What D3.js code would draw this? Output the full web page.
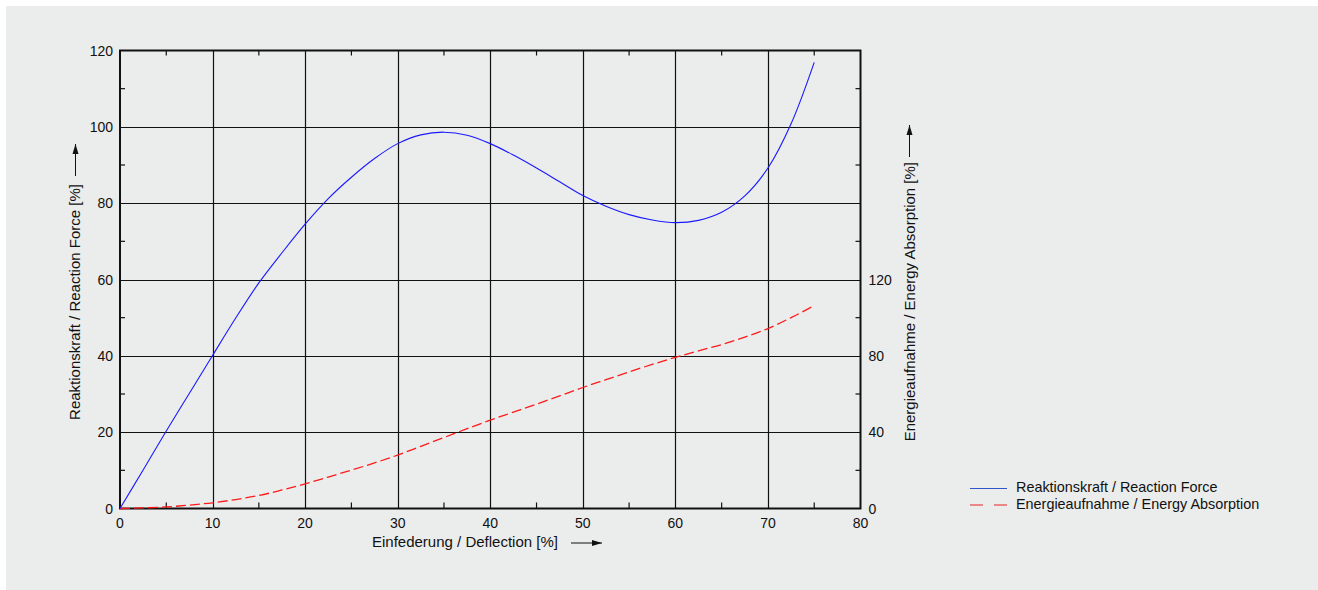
<!DOCTYPE html>
<html><head><meta charset="utf-8">
<script src="https://cdn.jsdelivr.net/npm/d3@7"></script>
<style>body{margin:0;background:#fff}svg{display:block}text{font-family:"Liberation Sans",Arial,sans-serif;fill:#111}</style>
</head><body><svg id="c" width="1318" height="590"></svg>
<script>
const deflection = [0,2.5,5,7.5,10,12.5,15,17.5,20,22.5,25,27.5,30,32.5,35,37.5,40,42.5,45,47.5,50,52.5,55,57.5,60,62.5,65,67.5,70,72.5,75];
const reactionForce = [0,10.1,20.3,30.2,40.1,49.9,59.1,67.0,74.5,81.2,86.8,91.7,95.6,97.9,98.6,97.8,95.6,92.6,89.2,85.6,82.0,79.2,77.0,75.6,74.9,75.5,77.6,81.9,89.2,100.8,116.9];
const energyAbsorption = [0,0.3,0.8,1.8,3,4.7,6.8,9.7,12.9,16.5,20.1,23.9,28,32.6,37.2,41.8,46.3,50.5,54.7,59,63.4,67.5,71.6,75.5,79.2,82.6,85.9,89.8,94.3,100,106.3];
const xTicks = [0,10,20,30,40,50,60,70,80];
const yLeftTicks = [0,20,40,60,80,100,120];
const yRightTicks = [0,40,80,120];
const labels = {
  x: "Einfederung / Deflection [%]",
  yLeft: "Reaktionskraft / Reaction Force [%]",
  yRight: "Energieaufnahme / Energy Absorption [%]",
  s1: "Reaktionskraft / Reaction Force",
  s2: "Energieaufnahme / Energy Absorption"
};

const svg = d3.select("#c");
svg.append("defs").append("marker").attr("id","ah").attr("viewBox","0 0 10 10")
  .attr("refX",10).attr("refY",5).attr("markerWidth",10).attr("markerHeight",10)
  .attr("markerUnits","userSpaceOnUse").attr("orient","auto")
  .append("path").attr("d","M0,2 L10,5 L0,8 Z").attr("fill","#111");

svg.append("rect").attr("x",6).attr("y",6).attr("width",1312).attr("height",584).attr("fill","#ebecec");

const L=120,R=860.5,T=50.5,B=508.5;
const x = d3.scaleLinear().domain([0,80]).range([L,R]);
const yL = d3.scaleLinear().domain([0,120]).range([B,T]);
const yR = d3.scaleLinear().domain([0,240]).range([B,T]);

const g = svg.append("g");
g.selectAll(".vg").data(xTicks.slice(1,-1)).join("line")
  .attr("x1",d=>Math.round(x(d))+0.5).attr("x2",d=>Math.round(x(d))+0.5).attr("y1",T).attr("y2",B)
  .attr("stroke","#111").attr("stroke-width",1.2);
g.selectAll(".hg").data(yLeftTicks.slice(1,-1)).join("line")
  .attr("y1",d=>Math.round(yL(d))+0.5).attr("y2",d=>Math.round(yL(d))+0.5).attr("x1",L).attr("x2",R)
  .attr("stroke","#111").attr("stroke-width",1.2);
const xMinor = d3.range(5,80,10);
const yMinor = d3.range(10,120,20);
g.selectAll(".bt").data(xMinor).join("line").attr("x1",d=>x(d)).attr("x2",d=>x(d)).attr("y1",B).attr("y2",B-6).attr("stroke","#111").attr("stroke-width",1.2);
g.selectAll(".tt").data(xMinor).join("line").attr("x1",d=>x(d)).attr("x2",d=>x(d)).attr("y1",T).attr("y2",T+5).attr("stroke","#111").attr("stroke-width",1.2);
g.selectAll(".lt").data(yMinor).join("line").attr("y1",d=>yL(d)).attr("y2",d=>yL(d)).attr("x1",L).attr("x2",L+5).attr("stroke","#111").attr("stroke-width",1.2);
g.selectAll(".rt").data(yMinor).join("line").attr("y1",d=>yL(d)).attr("y2",d=>yL(d)).attr("x1",R).attr("x2",R-5).attr("stroke","#111").attr("stroke-width",1.2);
g.append("rect").attr("x",L).attr("y",T).attr("width",R-L).attr("height",B-T).attr("fill","none").attr("stroke","#111").attr("stroke-width",2);

svg.selectAll(".xl").data(xTicks).join("text").attr("x",d=>x(d)).attr("y",B+19).attr("text-anchor","middle").attr("font-size",14).text(d=>d);
svg.selectAll(".yll").data(yLeftTicks).join("text").attr("x",L-7).attr("y",d=>yL(d)+5).attr("text-anchor","end").attr("font-size",14).text(d=>d);
svg.selectAll(".yrl").data(yRightTicks).join("text").attr("x",R+8).attr("y",d=>yR(d)+5).attr("text-anchor","start").attr("font-size",14).text(d=>d);

const curve = d3.curveCatmullRom.alpha(0.5);
const lineF = d3.line().x((d,i)=>x(deflection[i])).y(d=>yL(d)).curve(curve);
const lineE = d3.line().x((d,i)=>x(deflection[i])).y(d=>yR(d)).curve(curve);
svg.append("path").attr("d",lineE(energyAbsorption)).attr("fill","none").attr("stroke","#ff1a1a").attr("stroke-width",1.3).attr("stroke-dasharray","10,4");
svg.append("path").attr("d",lineF(reactionForce)).attr("fill","none").attr("stroke","#1a1aff").attr("stroke-width",1.1);

svg.append("text").attr("x",372).attr("y",547).attr("font-size",15).text(labels.x);
svg.append("line").attr("x1",571).attr("x2",602).attr("y1",543).attr("y2",543).attr("stroke","#111").attr("stroke-width",1).attr("marker-end","url(#ah)");

svg.append("text").attr("transform","translate(80,184) rotate(-90)").attr("text-anchor","end").attr("font-size",15).text(labels.yLeft);
svg.append("line").attr("x1",75.5).attr("x2",75.5).attr("y1",176).attr("y2",144).attr("stroke","#111").attr("stroke-width",1).attr("marker-end","url(#ah)");

svg.append("text").attr("transform","translate(915,162) rotate(-90)").attr("text-anchor","end").attr("font-size",15).text(labels.yRight);
svg.append("line").attr("x1",909.5).attr("x2",909.5).attr("y1",157).attr("y2",125).attr("stroke","#111").attr("stroke-width",1).attr("marker-end","url(#ah)");

svg.append("line").attr("x1",970).attr("x2",1007).attr("y1",488.5).attr("y2",488.5).attr("stroke","#3355cc").attr("stroke-width",1.2);
svg.append("line").attr("x1",970).attr("x2",1007).attr("y1",505).attr("y2",505).attr("stroke","#ee2222").attr("stroke-width",1.2).attr("stroke-dasharray","13,11");
svg.append("text").attr("x",1016).attr("y",491.5).attr("font-size",14.4).text(labels.s1);
svg.append("text").attr("x",1016).attr("y",508.5).attr("font-size",14.4).text(labels.s2);
</script></body></html>
